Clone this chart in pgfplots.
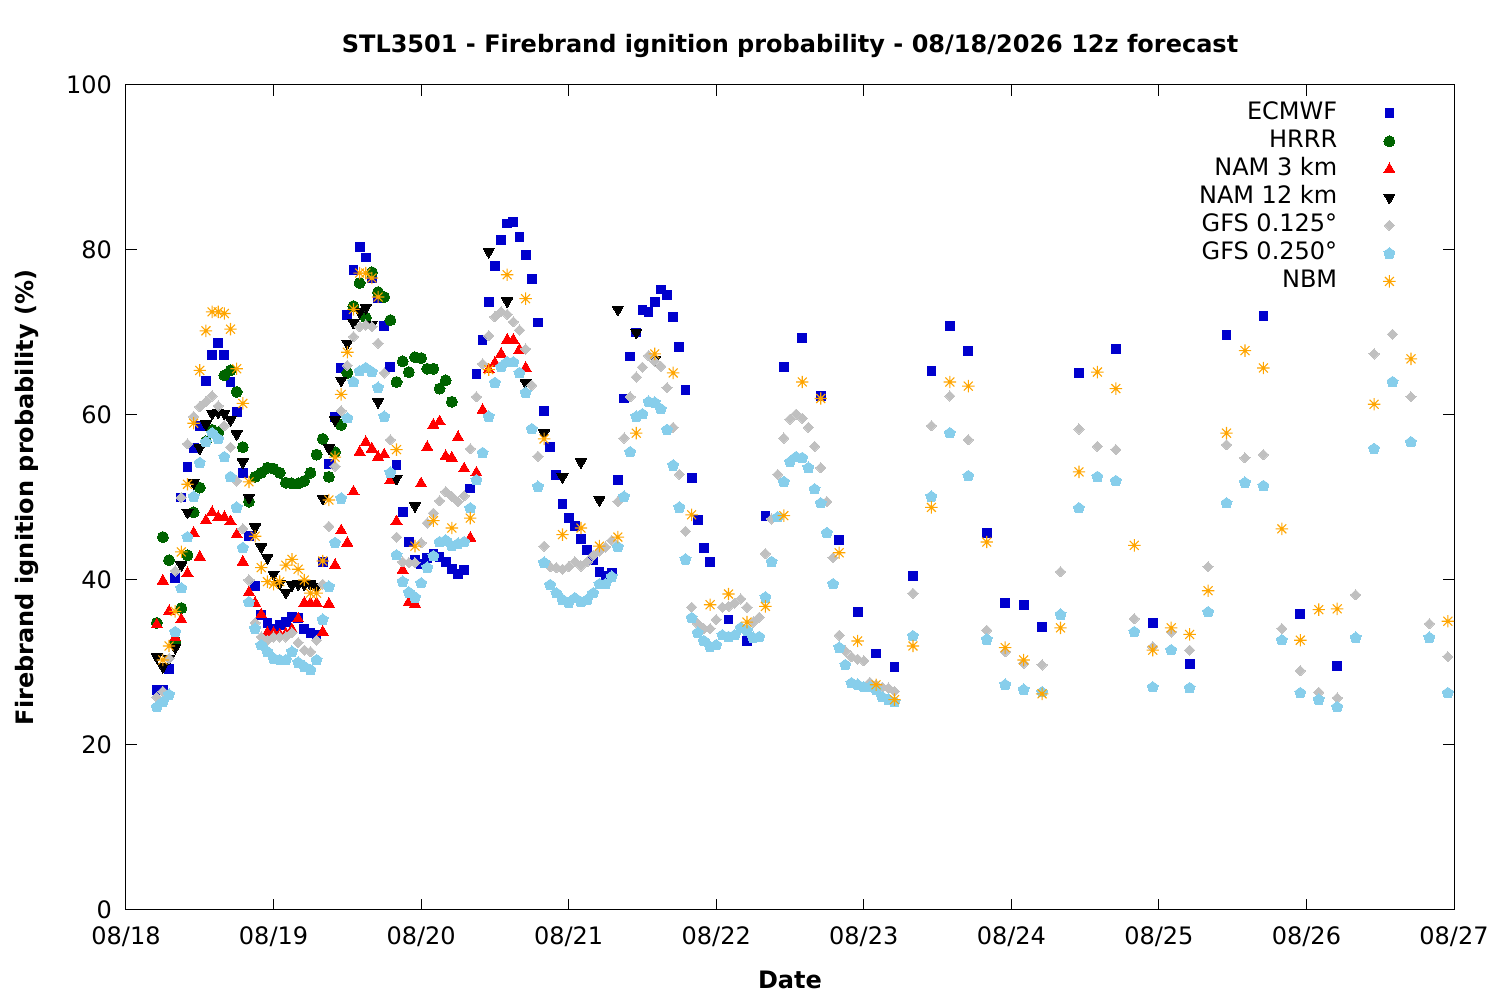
\documentclass[border=0pt]{standalone}
\usepackage{fontspec}
\setmainfont{DejaVu Sans}
\usepackage{pgfplots}
\pgfplotsset{compat=1.18}
\definecolor{cEC}{RGB}{0,0,205}
\definecolor{cHR}{RGB}{0,100,0}
\definecolor{cN3}{RGB}{255,0,0}
\definecolor{cN12}{RGB}{0,0,0}
\definecolor{cG1}{RGB}{192,192,192}
\definecolor{cG2}{RGB}{135,206,235}
\definecolor{cNB}{RGB}{255,165,0}
\newcommand\ff{\fontsize{12}{14}\selectfont}
\pgfdeclareplotmark{gpstar}{%
  \pgfpathmoveto{\pgfqpoint{-\pgfplotmarksize}{0pt}}\pgfpathlineto{\pgfqpoint{\pgfplotmarksize}{0pt}}%
  \pgfpathmoveto{\pgfqpoint{0pt}{-\pgfplotmarksize}}\pgfpathlineto{\pgfqpoint{0pt}{\pgfplotmarksize}}%
  \pgfpathmoveto{\pgfqpoint{-.72\pgfplotmarksize}{-.72\pgfplotmarksize}}\pgfpathlineto{\pgfqpoint{.72\pgfplotmarksize}{.72\pgfplotmarksize}}%
  \pgfpathmoveto{\pgfqpoint{-.72\pgfplotmarksize}{.72\pgfplotmarksize}}\pgfpathlineto{\pgfqpoint{.72\pgfplotmarksize}{-.72\pgfplotmarksize}}%
  \pgfusepathqstroke}
\begin{document}
\begin{tikzpicture}
\path[use as bounding box] (-63pt,-45pt) rectangle (687pt,455pt);
\begin{axis}[
  scale only axis, width=664pt, height=412.5pt,
  xmin=0, xmax=216, ymin=0, ymax=100,
  xtick={0,24,...,216},
  xticklabels={08/18,08/19,08/20,08/21,08/22,08/23,08/24,08/25,08/26,08/27},
  ytick={0,20,...,100},
  /pgf/number format/assume math mode=true,
  tick label style={font=\ff},
  xticklabel style={anchor=north, yshift=-5pt},
  yticklabel style={anchor=east, xshift=-3.5pt},
  major tick length=5.5pt,
  tick style={black, line width=0.5pt},
  axis line style={line width=0.5pt},
  title={\bfseries STL3501 - Firebrand ignition probability - 08/18/2026 12z forecast},
  title style={at={(axis description cs:0.5,1)}, anchor=center, yshift=13.5pt, font=\ff},
  xlabel={\bfseries Date},
  ylabel={\bfseries Firebrand ignition probability (\%)},
  every axis x label/.style={at={(axis description cs:0.5,0)}, anchor=center, yshift=-35pt, font=\ff},
  every axis y label/.style={at={(axis description cs:0,0.5)}, xshift=-49.5pt, rotate=90, anchor=center, font=\ff},
  legend plot pos=right,
  legend cell align=right,
  legend style={at={(axis description cs:1,1)}, anchor=north east, xshift=-29pt, yshift=-7pt,
    draw=none, fill=none, font=\ff, inner sep=0pt, column sep=22pt, row sep=0pt,
    nodes={inner sep=1pt, text height=9pt, text depth=3pt}},
  clip=false,
]
\addplot[only marks, mark=square*, mark size=2.2pt, color=cEC, mark options={draw=cEC, fill=cEC, line width=0pt}] coordinates {
(5,26.7)(6,26.7)(7,29.2)(8,40.2)(9,50)(10,53.7)(11,56)(12,58.7)(13,64.1)(14,67.3)(15,68.7)(16,67.3)(17,64)(18,60.4)(19,53)(20,45.3)(21,39.3)(22,35.8)(23,34.8)(24,34.1)(25,34.5)(26,34.9)(27,35.5)(28,35.4)(29,34.1)(30,33.6)(31,33.3)(32,42.2)(33,54.1)(34,59.8)(35,65.7)(36,72.1)(37,77.6)(38,80.4)(39,79.1)(40,76.6)(41,74.2)(42,70.8)(43,65.8)(44,53.9)(45,48.2)(46,44.6)(47,42.4)(48,41.9)(49,42.7)(50,43.2)(51,42.8)(52,42.2)(53,41.3)(54,40.7)(55,41.2)(56,51.1)(57,65)(58,69.1)(59,73.7)(60,78.1)(61,81.2)(62,83.2)(63,83.4)(64,81.6)(65,79.4)(66,76.5)(67,71.2)(68,60.5)(69,56.1)(70,52.7)(71,49.2)(72,47.5)(73,46.5)(74,45)(75,43.6)(76,42.4)(77,41)(78,40.5)(79,40.8)(80,52.1)(81,62)(82,67.1)(83,70)(84,72.7)(85,72.5)(86,73.7)(87,75.2)(88,74.5)(89,71.9)(90,68.2)(91,63)(92,52.4)(93,47.3)(94,43.9)(95,42.2)(98,35.2)(101,32.6)(104,47.8)(107,65.8)(110,69.3)(113,62.3)(116,44.8)(119,36.1)(122,31.1)(125,29.5)(128,40.5)(131,65.3)(134,70.8)(137,67.8)(140,45.7)(143,37.2)(146,37)(149,34.3)(155,65.1)(161,68)(167,34.8)(173,29.8)(179,69.7)(185,72)(191,35.9)(197,29.6)
};
\addlegendentry{ECMWF}
\addplot[only marks, mark=*, mark size=2.75pt, color=cHR, mark options={draw=cHR, fill=cHR, line width=0pt}] coordinates {
(5,34.8)(6,45.2)(7,42.4)(8,32.5)(9,36.6)(10,43)(11,48.2)(12,51.2)(13,56.8)(14,58.2)(15,57.9)(16,64.8)(17,65.4)(18,62.8)(19,56.1)(20,49.5)(21,52.5)(22,53)(23,53.6)(24,53.5)(25,53)(26,51.8)(27,51.7)(28,51.7)(29,52)(30,53)(31,55.2)(32,57.1)(33,52.5)(34,55.5)(35,58.8)(36,65.1)(37,73.2)(38,76)(39,71.8)(40,77.3)(41,74.9)(42,74.3)(43,71.5)(44,64)(45,66.5)(46,65.2)(47,67)(48,66.9)(49,65.6)(50,65.6)(51,63.2)(52,64.2)(53,61.6)
};
\addlegendentry{HRRR}
\addplot[only marks, mark=triangle*, mark size=3.2pt, color=cN3, mark options={draw=cN3, fill=cN3, line width=0pt}] coordinates {
(5,34.6)(6,39.9)(7,36.2)(8,33)(9,35.2)(10,40.8)(11,45.7)(12,42.8)(13,47.2)(14,48.2)(15,47.6)(16,47.6)(17,47.1)(18,45.5)(19,42.2)(20,38.5)(21,37.2)(22,35.8)(23,33.6)(24,33.6)(25,33.4)(26,33.5)(27,34)(28,35.3)(29,37.2)(30,37.2)(31,37.2)(32,33.7)(33,37.1)(34,41.8)(35,46)(36,44.5)(37,50.7)(38,55.5)(39,56.7)(40,55.9)(41,54.9)(42,55.2)(43,52.1)(44,47.1)(45,41.2)(46,37.3)(47,37.1)(48,51.7)(49,56.1)(50,58.8)(51,59.2)(52,55)(53,54.8)(54,57.3)(55,53.5)(56,45.1)(57,53)(58,60.6)(59,65.5)(60,66.3)(61,67.4)(62,69.1)(63,69.1)(64,67.9)(65,65.7)
};
\addlegendentry{NAM 3 km}
\addplot[only marks, mark=triangle*, mark size=3.2pt, color=cN12, mark options={draw=cN12, fill=cN12, line width=0pt, rotate=180}] coordinates {
(5,30.7)(6,29.5)(7,30.5)(8,31.8)(9,41.8)(10,48.2)(11,51.8)(12,56)(13,58.9)(14,60.2)(15,60.3)(16,60.2)(17,59.4)(18,57.7)(19,54.3)(20,50)(21,46.4)(22,44)(23,42.7)(24,40.7)(25,39.6)(26,38.5)(27,39.4)(28,39.5)(29,39.5)(30,39.5)(31,39.2)(32,49.9)(33,56)(34,59.4)(35,64.2)(36,68.7)(37,71.2)(38,72.5)(39,73)(40,71)(41,61.6)(44,52.3)(47,49)(59,79.8)(62,73.8)(65,63.9)(68,57.8)(71,52.5)(74,54.3)(77,49.7)(80,72.8)(83,70)(86,66.7)
};
\addlegendentry{NAM 12 km}
\addplot[only marks, mark=square*, mark size=1.8pt, color=cG1, mark options={draw=cG1, fill=cG1, line width=0pt, rotate=45}] coordinates {
(5,25.8)(6,26.5)(7,30.5)(8,41.1)(9,50)(10,56.5)(11,59.8)(12,61)(13,61.6)(14,62.3)(15,61.1)(16,58.7)(17,56.1)(18,52)(19,46.2)(20,40)(21,34.8)(22,33.1)(23,32.7)(24,33.1)(25,33.1)(26,33.1)(27,33.6)(28,32.4)(29,31.5)(30,31.3)(31,32.7)(32,39.5)(33,46.5)(34,53.8)(35,60.5)(36,66)(37,69.5)(38,70.7)(39,70.9)(40,70.7)(41,68.7)(42,65.1)(43,57)(44,45.2)(45,42.2)(46,42.1)(47,42.1)(48,44.5)(49,46.9)(50,48.1)(51,49.6)(52,50.7)(53,50.1)(54,49.5)(55,50.2)(56,55.9)(57,62.2)(58,66.2)(59,69.6)(60,71.9)(61,72.5)(62,72.2)(63,71.3)(64,70.3)(65,68)(66,63.6)(67,55)(68,44.1)(69,41.6)(70,41.5)(71,41.3)(72,41.6)(73,42.2)(74,41.7)(75,42.2)(76,43)(77,43.5)(78,44)(79,44.8)(80,49.5)(81,57.2)(82,62.2)(83,64.6)(84,65.8)(85,67.2)(86,66.5)(87,65.9)(88,63.3)(89,58.5)(90,52.8)(91,45.9)(92,36.7)(93,34.7)(94,34.1)(95,34.1)(96,35.2)(97,36.7)(98,36.8)(99,37.2)(100,37.7)(101,36.7)(102,34.9)(103,35.5)(104,43.2)(105,47.4)(106,52.8)(107,57.2)(108,59.5)(109,60.1)(110,59.6)(111,58.5)(112,56.2)(113,53.6)(114,49.5)(115,42.7)(116,33.3)(117,31.4)(118,30.7)(119,30.4)(120,30.2)(121,27.6)(122,27.3)(123,27)(124,26.9)(125,26.5)(128,38.4)(131,58.7)(134,62.3)(137,57)(140,33.9)(143,31.3)(146,29.9)(149,29.7)(152,41)(155,58.3)(158,56.2)(161,55.8)(164,35.3)(167,31.9)(170,33.7)(173,31.5)(176,41.6)(179,56.4)(182,54.8)(185,55.2)(188,34.1)(191,29)(194,26.4)(197,25.7)(200,38.2)(203,67.4)(206,69.8)(209,62.2)(212,34.7)(215,30.7)
};
\addlegendentry{GFS 0.125°}
\addplot[only marks, mark=pentagon*, mark size=2.9pt, color=cG2, mark options={draw=cG2, fill=cG2, line width=0pt}] coordinates {
(5,24.6)(6,25.2)(7,26.1)(8,33.7)(9,39)(10,45.2)(11,50.1)(12,54.2)(13,56.7)(14,57.8)(15,57.1)(16,54.9)(17,52.5)(18,48.8)(19,43.9)(20,37.3)(21,34.1)(22,32.1)(23,31.3)(24,30.5)(25,30.3)(26,30.3)(27,31.3)(28,30)(29,29.5)(30,29.1)(31,30.3)(32,35.2)(33,39.2)(34,44.5)(35,49.9)(36,59.6)(37,64)(38,65.3)(39,65.7)(40,65.2)(41,63.3)(42,59.8)(43,53)(44,43)(45,39.8)(46,38.5)(47,37.9)(48,39.6)(49,41.5)(50,42.9)(51,44.6)(52,44.8)(53,44.1)(54,44.4)(55,44.6)(56,48.7)(57,52.1)(58,55.4)(59,59.8)(60,63.9)(61,65.8)(62,66.4)(63,66.4)(64,65.1)(65,62.7)(66,58.3)(67,51.3)(68,42.1)(69,39.4)(70,38.4)(71,37.6)(72,37.2)(73,37.8)(74,37.3)(75,37.6)(76,38.4)(77,39.5)(78,39.5)(79,40.4)(80,44)(81,50.1)(82,55.5)(83,59.8)(84,60.1)(85,61.6)(86,61.5)(87,60.7)(88,58.2)(89,53.9)(90,48.8)(91,42.5)(92,35.4)(93,33.6)(94,32.6)(95,31.9)(96,32.1)(97,33.3)(98,33.1)(99,33.3)(100,34.2)(101,33.9)(102,33)(103,33.1)(104,37.9)(105,42.2)(106,47.6)(107,51.9)(108,54.3)(109,54.9)(110,54.8)(111,53.6)(112,51)(113,49.3)(114,45.7)(115,39.5)(116,31.8)(117,29.7)(118,27.5)(119,27.3)(120,27)(121,27)(122,26.7)(123,25.8)(124,25.5)(125,25.2)(128,33.2)(131,50.1)(134,57.8)(137,52.6)(140,32.8)(143,27.3)(146,26.7)(149,26.4)(152,35.8)(155,48.7)(158,52.5)(161,52)(164,33.7)(167,27)(170,31.5)(173,26.9)(176,36.1)(179,49.3)(182,51.8)(185,51.4)(188,32.7)(191,26.3)(194,25.5)(197,24.6)(200,33)(203,55.9)(206,64)(209,56.7)(212,33)(215,26.3)
};
\addlegendentry{GFS 0.250°}
\addplot[only marks, mark=gpstar, mark size=3.1pt, color=cNB, mark options={draw=cNB, line width=0.55pt}] coordinates {
(6,30.3)(7,32)(8,36.2)(9,43.4)(10,51.6)(11,59)(12,65.4)(13,70.2)(14,72.5)(15,72.5)(16,72.3)(17,70.4)(18,65.6)(19,61.4)(20,51.9)(21,45.3)(22,41.5)(23,39.8)(24,39.5)(25,39.8)(26,41.8)(27,42.5)(28,41.3)(29,40)(30,38.4)(31,38.4)(32,42.3)(33,49.7)(34,54.9)(35,62.5)(36,67.6)(37,72.8)(38,77.2)(39,77.2)(40,76.6)(41,74.3)(44,55.8)(47,44.1)(50,47.2)(53,46.3)(56,47.5)(59,65.5)(62,77)(65,74.1)(68,57.1)(71,45.5)(74,46.3)(77,44.1)(80,45.2)(83,57.8)(86,67.4)(89,65.1)(92,47.9)(95,37)(98,38.3)(101,34.9)(104,36.8)(107,47.8)(110,64)(113,62)(116,43.3)(119,32.6)(122,27.3)(125,25.5)(128,32)(131,48.8)(134,64)(137,63.5)(140,44.6)(143,31.8)(146,30.3)(149,26.2)(152,34.2)(155,53.1)(158,65.2)(161,63.2)(164,44.2)(167,31.5)(170,34.2)(173,33.4)(176,38.7)(179,57.8)(182,67.8)(185,65.7)(188,46.2)(191,32.7)(194,36.4)(197,36.5)(203,61.3)(209,66.8)(215,35)
};
\addlegendentry{NBM}
\end{axis}
\end{tikzpicture}
\end{document}
